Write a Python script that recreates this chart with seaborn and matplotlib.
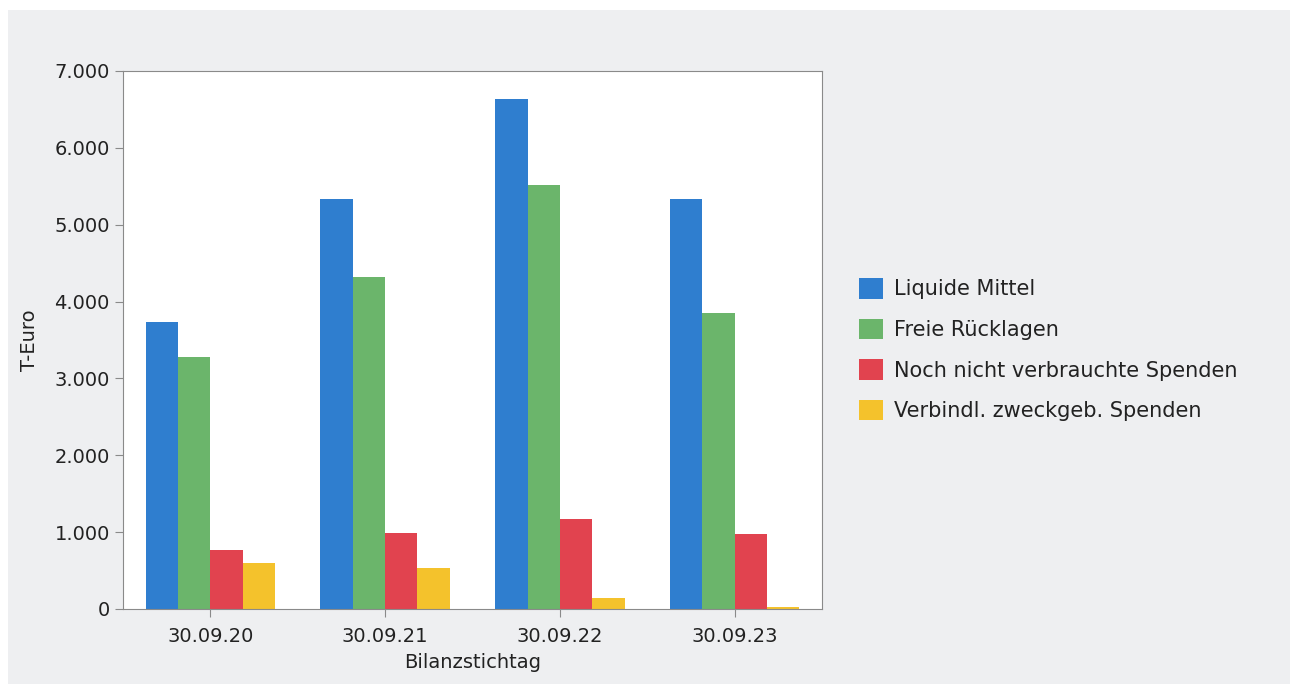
import matplotlib
matplotlib.use("Agg")
import matplotlib.pyplot as plt
from matplotlib.patches import Rectangle
from matplotlib.ticker import FuncFormatter, MultipleLocator
import pandas as pd
import seaborn as sns

# Stichtage und Bilanzwerte in T-Euro
dates = ["30.09.20", "30.09.21", "30.09.22", "30.09.23"]
liquide_mittel = [3740, 5330, 6630, 5330]
freie_ruecklagen = [3280, 4320, 5520, 3850]
nicht_verbrauchte_spenden = [765, 985, 1165, 970]
zweckgeb_spenden = [600, 535, 145, 25]

series_names = [
    "Liquide Mittel",
    "Freie Rücklagen",
    "Noch nicht verbrauchte Spenden",
    "Verbindl. zweckgeb. Spenden",
]
series_values = [liquide_mittel, freie_ruecklagen, nicht_verbrauchte_spenden, zweckgeb_spenden]
colors = ["#2f7ecf", "#6bb56b", "#e1434f", "#f4c22c"]

rows = []
for name, vals in zip(series_names, series_values):
    for d, v in zip(dates, vals):
        rows.append({"Bilanzstichtag": d, "T-Euro": v, "Reihe": name})
df = pd.DataFrame(rows)

sns.set_theme(style="white")
plt.rcParams["font.family"] = ["DejaVu Sans"]
text_color = "#222222"

fig = plt.figure(figsize=(12.9, 6.84), dpi=100, facecolor="white")
# light grey page panel behind the chart
fig.patches.append(Rectangle((8 / 1290, 0), 1282 / 1290, 674 / 684,
                             transform=fig.transFigure, facecolor="#eeeff1",
                             edgecolor="none", zorder=-10))

ax = fig.add_axes([123 / 1290, 1 - 609 / 684, 699 / 1290, 538 / 684])
ax.set_facecolor("white")

sns.barplot(data=df, x="Bilanzstichtag", y="T-Euro", hue="Reihe",
            hue_order=series_names, order=dates, palette=colors,
            width=0.74, saturation=1, ax=ax, legend=True,
            edgecolor="none", linewidth=0)

ax.set_ylim(0, 7000)
ax.set_xlim(-0.5, 3.5)
ax.yaxis.set_major_locator(MultipleLocator(1000))
ax.yaxis.set_major_formatter(FuncFormatter(lambda v, p: f"{int(v):,}".replace(",", ".")))

for s in ax.spines.values():
    s.set_color("#8a8a8a")
    s.set_linewidth(0.8)
    s.set_visible(True)

ax.tick_params(axis="both", which="major", direction="out", length=6, width=0.8,
               color="#8a8a8a", labelsize=14, labelcolor=text_color)
ax.tick_params(axis="y", left=True, pad=3.5)
ax.tick_params(axis="x", bottom=True, pad=7)

ax.set_xlabel("Bilanzstichtag", fontsize=14, color=text_color, labelpad=5)
ax.set_ylabel("T-Euro", fontsize=14, color=text_color, labelpad=11)

handles, labels = ax.get_legend_handles_labels()
ax.legend(handles, labels, loc="upper left",
          bbox_to_anchor=(859 / 1290, 1 - 278 / 684), bbox_transform=fig.transFigure,
          frameon=False, fontsize=15, handlelength=1.15, handleheight=1.15,
          handletextpad=0.55, labelspacing=0.92, borderpad=0, borderaxespad=0,
          labelcolor=text_color)

fig.savefig("out.png", dpi=100, facecolor=fig.get_facecolor())
